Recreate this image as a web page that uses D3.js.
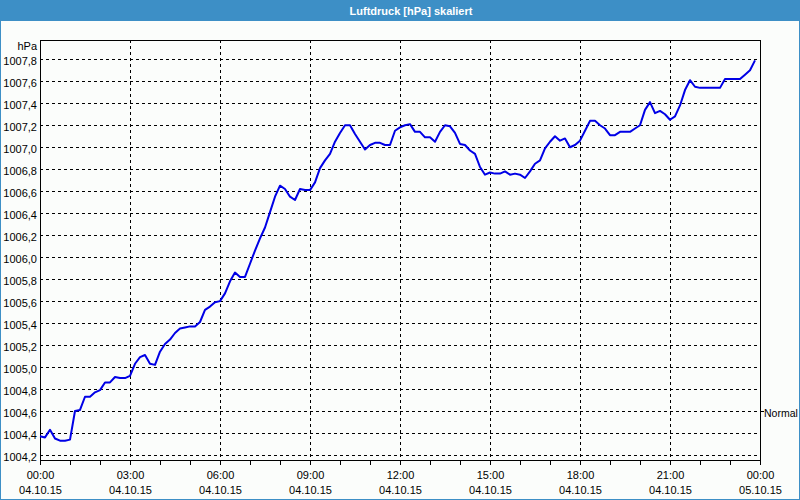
<!DOCTYPE html>
<html><head><meta charset="utf-8">
<script src="https://cdn.jsdelivr.net/npm/d3@7"></script>
<style>
html,body{margin:0;padding:0;background:#fbfdfb;}
svg{display:block;}
text{font-family:"Liberation Sans",Arial,sans-serif;font-size:11px;fill:#000;}
</style></head><body>
<svg id="chart" width="800" height="500"></svg>
<script>
// ---- data ----
const title = "Luftdruck [hPa] skaliert";
const unitLabel = "hPa";
const startTime = "2015-10-04T00:00:00";
const endTime = "2015-10-05T00:00:00";
const sampleMinutes = 10;
const pressure = [
 1004.37,1004.36,1004.43,1004.35,1004.33,1004.33,1004.34,1004.60,1004.61,1004.73,
 1004.73,1004.77,1004.79,1004.86,1004.86,1004.91,1004.90,1004.90,1004.92,1005.03,
 1005.09,1005.11,1005.03,1005.02,1005.14,1005.21,1005.25,1005.31,1005.35,1005.36,
 1005.37,1005.37,1005.41,1005.52,1005.55,1005.59,1005.60,1005.67,1005.78,1005.86,
 1005.82,1005.82,1005.94,1006.06,1006.17,1006.27,1006.41,1006.55,1006.65,1006.62,
 1006.55,1006.52,1006.62,1006.61,1006.61,1006.68,1006.81,1006.88,1006.94,1007.05,
 1007.13,1007.20,1007.20,1007.12,1007.05,1006.98,1007.02,1007.04,1007.04,1007.02,
 1007.02,1007.15,1007.18,1007.20,1007.21,1007.14,1007.14,1007.09,1007.09,1007.05,
 1007.14,1007.20,1007.19,1007.13,1007.03,1007.02,1006.97,1006.94,1006.82,1006.75,
 1006.77,1006.76,1006.76,1006.78,1006.75,1006.76,1006.75,1006.72,1006.78,1006.85,
 1006.88,1006.99,1007.05,1007.10,1007.06,1007.08,1007.00,1007.02,1007.06,1007.15,
 1007.24,1007.24,1007.20,1007.17,1007.11,1007.11,1007.14,1007.14,1007.14,1007.17,
 1007.20,1007.34,1007.41,1007.31,1007.33,1007.30,1007.25,1007.28,1007.38,1007.52,
 1007.61,1007.55,1007.54,1007.54,1007.54,1007.54,1007.54,1007.62,1007.62,1007.62,
 1007.62,1007.66,1007.70,1007.79
];
const yTicks = [1004.2,1004.4,1004.6,1004.8,1005.0,1005.2,1005.4,1005.6,1005.8,1006.0,
 1006.2,1006.4,1006.6,1006.8,1007.0,1007.2,1007.4,1007.6,1007.8];
const yDomain = [1004.1545, 1007.9755];
const xMajorHours = [0,3,6,9,12,15,18,21,24];
const normalLabel = "Normal";
const normalValue = 1004.6;

// ---- layout ----
const W = 800, H = 500;
const plot = {left:40, top:40, right:760, bottom:460};
const svg = d3.select("#chart");
const blue = "#3d8fc6";

const parse = d3.isoParse;
const t0 = parse(startTime), t1 = parse(endTime);
const data = pressure.map((v,i)=>({t:d3.timeMinute.offset(t0, i*sampleMinutes), v}));

const x = d3.scaleTime().domain([t0,t1]).range([plot.left, plot.right]);
const y = d3.scaleLinear().domain(yDomain).range([plot.bottom, plot.top]);
const loc = d3.formatLocale({decimal:",", thousands:".", grouping:[3], currency:["","€"]});
const fmtY = loc.format(".1f");
const fmtTime = d3.timeFormat("%H:%M");
const fmtDate = d3.timeFormat("%d.%m.%y");

// background
svg.append("rect").attr("width",W).attr("height",H).attr("fill","#fbfdfb");
// title bar
svg.append("rect").attr("x",0).attr("y",0).attr("width",W).attr("height",21).attr("fill",blue);
svg.append("text").attr("x",411).attr("y",15).attr("text-anchor","middle")
  .style("font-weight","bold").style("fill","#fff").text(title);
// window border
svg.append("rect").attr("x",0.5).attr("y",0.5).attr("width",W-1).attr("height",H-1)
  .attr("fill","none").attr("stroke",blue).attr("stroke-width",1);

const g = svg.append("g").attr("shape-rendering","crispEdges");

// horizontal gridlines
g.selectAll("line.hg").data(yTicks).join("line")
  .attr("x1",plot.left).attr("x2",plot.right)
  .attr("y1",d=>Math.round(y(d))+0.5).attr("y2",d=>Math.round(y(d))+0.5)
  .attr("stroke","#000").attr("stroke-dasharray","3,3");
// vertical gridlines
const majorTimes = xMajorHours.map(h=>d3.timeHour.offset(t0,h));
g.selectAll("line.vg").data(majorTimes.slice(1,-1)).join("line")
  .attr("y1",plot.top).attr("y2",plot.bottom)
  .attr("x1",d=>Math.round(x(d))+0.5).attr("x2",d=>Math.round(x(d))+0.5)
  .attr("stroke","#000").attr("stroke-dasharray","3,3");

// frame
g.append("rect").attr("x",plot.left+0.5).attr("y",plot.top+0.5)
  .attr("width",plot.right-plot.left).attr("height",plot.bottom-plot.top)
  .attr("fill","none").attr("stroke","#000");

// x ticks (hourly)
const hourly = d3.timeHour.range(t0, d3.timeHour.offset(t1,1));
g.selectAll("line.xt").data(hourly).join("line")
  .attr("x1",d=>Math.round(x(d))+0.5).attr("x2",d=>Math.round(x(d))+0.5)
  .attr("y1",plot.bottom).attr("y2",plot.bottom+5).attr("stroke","#000");

// x labels
const xl = svg.append("g");
xl.selectAll("text.tl").data(majorTimes).join("text")
  .attr("x",d=>x(d)+0.5).attr("y",479).attr("text-anchor","middle").text(d=>fmtTime(d));
xl.selectAll("text.dl").data(majorTimes).join("text")
  .attr("x",d=>x(d)+0.5).attr("y",494).attr("text-anchor","middle").text(d=>fmtDate(d));

// y labels
svg.append("g").selectAll("text").data(yTicks).join("text")
  .attr("x",37).attr("y",d=>Math.round(y(d))+6).attr("text-anchor","end").text(d=>fmtY(d));
svg.append("text").attr("x",37).attr("y",50).attr("text-anchor","end").text(unitLabel);

// normal marker on right axis
const ny = Math.round(y(normalValue))+0.5;
g.append("line").attr("x1",plot.right).attr("x2",plot.right+4).attr("y1",ny).attr("y2",ny).attr("stroke","#000");
svg.append("text").attr("x",764).attr("y",ny+5).style("font-size","10.5px").text(normalLabel);

// line
const line = d3.line().x(d=>x(d.t)).y(d=>y(d.v));
svg.append("path").datum(data).attr("d",line)
  .attr("fill","none").attr("stroke","#0000e6").attr("stroke-width",2).attr("stroke-linejoin","round");
</script>
</body></html>
